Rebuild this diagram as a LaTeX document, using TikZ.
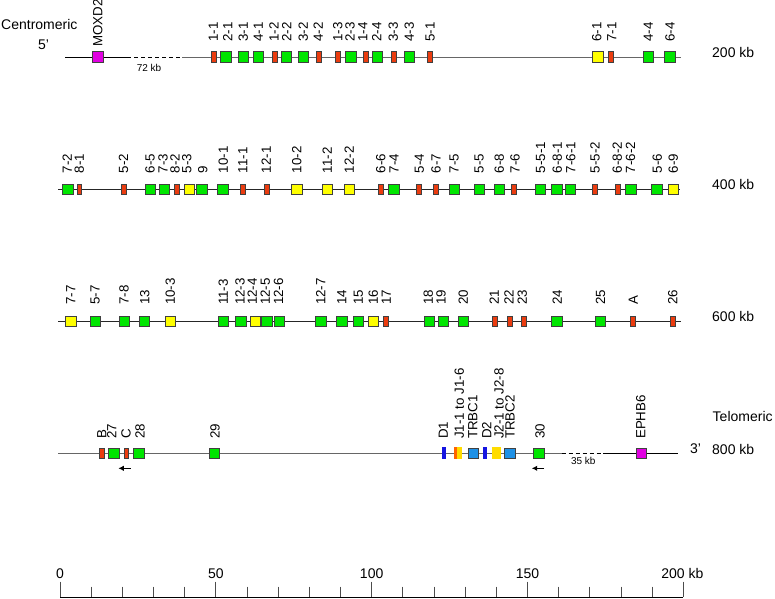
\documentclass[tikz,border=0pt]{standalone}
\usepackage{fontspec}
\setmainfont{Liberation Sans}
\usetikzlibrary{arrows.meta}
\definecolor{cgreen}{RGB}{0,230,0}
\definecolor{cred}{RGB}{235,60,15}
\definecolor{cyellow}{RGB}{255,255,0}
\definecolor{cpink}{RGB}{225,0,225}
\definecolor{cblue}{RGB}{30,145,230}
\definecolor{cdblue}{RGB}{20,20,225}
\definecolor{cjyellow}{RGB}{255,220,0}
\definecolor{corange}{RGB}{255,100,0}
\begin{document}
\begin{tikzpicture}[x=1pt,y=-1pt,
  el/.style={draw=black!75,line width=0.8pt,inner sep=0pt,minimum height=10.3pt},
  gbox/.style={el,fill=cgreen,minimum width=10.3pt},
  rbox/.style={el,fill=cred,minimum width=4.8pt},
  ybox/.style={el,fill=cyellow,minimum width=10.3pt},
  pbox/.style={el,fill=cpink,minimum width=10.3pt},
  tbox/.style={el,fill=cblue,minimum width=10.3pt},
  dbox/.style={inner sep=0pt,minimum height=12pt,minimum width=4pt,fill=cdblue},
  jbox/.style={inner sep=0pt,minimum height=12pt,minimum width=8.5pt,fill=cjyellow},
  jone/.style={jbox,path picture={\fill[corange] (path picture bounding box.south west) rectangle ([xshift=2.7pt]path picture bounding box.north west);}},
  lab/.style={rotate=90,anchor=west,inner sep=0pt,font=\fontsize{13.3}{16}\selectfont},
  side/.style={anchor=base west,inner sep=0pt,font=\fontsize{14}{16}\selectfont},
  small/.style={inner sep=0pt,font=\fontsize{10}{12}\selectfont},
  chrom/.style={line width=0.9pt,black!85},
  chromg/.style={line width=0.9pt,black!60},
  gapline/.style={line width=0.9pt,black,dash pattern=on 4pt off 3pt},
  tick/.style={line width=0.9pt,black!70},
  dir/.style={-{Latex[length=5.5pt,width=5.5pt]},line width=1.2pt}
]
\fill[white] (0,0) rectangle (775,598);
\useasboundingbox (0,0) rectangle (775,598);

% ---- side labels
\node[side] (cent) at (1,29) {Centromeric};
\node[side] (fivep) at (38,49.3) {5'};
\node[side] (kb200) at (712,57.5) {200 kb};
\node[side] (kb400) at (712,189.5) {400 kb};
\node[side] (kb600) at (712,321.7) {600 kb};
\node[side] (telo) at (712.5,421.7) {Telomeric};
\node[side] (threep) at (690,453.3) {3'};
\node[side] (kb800) at (712,454) {800 kb};

% ---- row lines
\coordinate (r1s) at (65,57);
\coordinate (r1d1) at (127,57);
\coordinate (r1d2) at (182,57);
\coordinate (r1e) at (681,57);
\draw[line width=0.9pt,black] (r1s) -- (r1d1);
\draw[gapline] (r1d1) -- (r1d2);
\draw[chromg] (r1d2) -- (r1e);
\node[small] (gap72) at (149,67.5) {72 kb};

\coordinate (r2s) at (58,189.3);
\coordinate (r2e) at (680,189.3);
\draw[chrom] (r2s) -- (r2e);

\coordinate (r3s) at (58,321.7);
\coordinate (r3e) at (681,321.7);
\draw[chrom] (r3s) -- (r3e);

\coordinate (r4s) at (58,453.3);
\coordinate (r4d1) at (561.7,453.3);
\coordinate (r4d2) at (603.3,453.3);
\coordinate (r4e) at (678.3,453.3);
\draw[chromg] (r4s) -- (r4d1);
\draw[gapline] (r4d1) -- (r4d2);
\draw[line width=0.9pt,black] (r4d2) -- (r4e);
\node[small] (gap35) at (583.3,461) {35 kb};

% ---- row 1
\node[pbox] (moxd) at (98,57) {};
\node[lab] (lmoxd) at (97.7,46.8) {MOXD2};
\foreach \px/\st/\tx/\lx [count=\i] in {
  214/rbox/1-1/213.3, 226/gbox/2-1/227.7,
  243.5/gbox/3-1/243.3, 258.5/gbox/4-1/258.3, 274.5/rbox/1-2/274,
  286.5/gbox/2-2/286.7, 303.5/gbox/3-2/303.3, 318.5/rbox/4-2/318.3,
  337.5/rbox/1-3/337.7, 351/gbox/2-3/350, 365.5/rbox/1-4/362.7,
  377.5/gbox/2-4/376.7, 393.5/rbox/3-3/393.3, 409.5/gbox/4-3/409.3,
  430/rbox/5-1/430, 598/ybox/6-1/596.7, 610.5/rbox/7-1/611.7,
  648.7/gbox/4-4/648.3, 670/gbox/6-4/670}
{ \node[\st] (ba\i) at (\px,57) {};
  \node[lab] (la\i) at (\lx,42) {\tx}; }

% ---- row 2
\foreach \px/\st/\tx/\lx [count=\i] in {
  68/gbox/7-2/67.3, 79.3/rbox/8-1/79.3, 124/rbox/5-2/123.5,
  150.3/gbox/6-5/150, 164.7/gbox/7-3/163, 176.5/rbox/8-2/175,
  189.6/ybox/5-3/186.9, 202/gbox/9/202.7, 223/gbox/10-1/223.2,
  243/rbox/11-1/242.8, 266.5/rbox/12-1/266.2, 297/ybox/10-2/296.7,
  327.5/ybox/11-2/327.3, 349.5/ybox/12-2/349.3, 380.8/rbox/6-6/380.7,
  393.8/gbox/7-4/394, 419/rbox/5-4/419.3, 436/rbox/6-7/436,
  454.7/gbox/7-5/454, 479.7/gbox/5-5/479, 499.7/gbox/6-8/499.3,
  514/rbox/7-6/515, 540.3/gbox/5-5-1/540.7, 557/gbox/6-8-1/557.3,
  570.3/gbox/7-6-1/570.7, 594.8/rbox/5-5-2/595, 617.8/rbox/6-8-2/617.3,
  631/gbox/7-6-2/630.5, 657/gbox/5-6/657.3, 673.5/ybox/6-9/673.3}
{ \node[\st] (bb\i) at (\px,189.3) {};
  \node[lab] (lb\i) at (\lx,173.3) {\tx}; }

% ---- row 3
\foreach \px/\st/\tx/\lx [count=\i] in {
  71/ybox/7-7/70.7, 95.3/gbox/5-7/95.1, 124.2/gbox/7-8/124,
  144.7/gbox/13/144.8, 170.3/ybox/10-3/170.2, 223.7/gbox/11-3/223.3,
  241/gbox/12-3/240, 255.3/ybox/12-4/252.2, 267/gbox/12-5/265.3,
  279.7/gbox/12-6/278.6, 321/gbox/12-7/320.7, 342/gbox/14/341.8,
  358.7/gbox/15/358.3, 373.7/ybox/16/373.3, 385.8/rbox/17/386.2,
  429.7/gbox/18/428.3, 443.7/gbox/19/441, 463.7/gbox/20/463.3,
  495/rbox/21/494.3, 510/rbox/22/509, 523.5/rbox/23/522.2,
  557/gbox/24/557.2, 600.5/gbox/25/600.6, 633/rbox/A/633.2,
  673/rbox/26/672.8}
{ \node[\st] (bc\i) at (\px,321.7) {};
  \node[lab] (lc\i) at (\lx,305) {\tx}; }

% ---- row 4
\foreach \px/\st/\tx/\lx [count=\i] in {
  101.8/rbox/B/101.7, 113.8/gbox/27/111.7, 126.3/rbox/C/126,
  138.8/gbox/28/140, 214.7/gbox/29/215, 443.8/dbox/D1/443.3,
  458.2/jone/J1-1 to J1-6/459.3, 473.3/tbox/TRBC1/472.7,
  485.3/dbox/D2/486.7, 496.7/jbox/J2-1 to J2-8/499,
  510/tbox/TRBC2/510, 538.8/gbox/30/540, 641.2/pbox/EPHB6/640.7}
{ \node[\st] (bd\i) at (\px,453.3) {};
  \node[lab] (ld\i) at (\lx,439) {\tx}; }

% ---- direction arrows
\coordinate (ar1s) at (130.7,468.3);
\coordinate (ar1e) at (118.3,468.3);
\draw[dir] (ar1s) -- (ar1e);
\coordinate (ar2s) at (544,468.3);
\coordinate (ar2e) at (531.7,468.3);
\draw[dir] (ar2s) -- (ar2e);

% ---- scale bar
\coordinate (sa) at (60,597);
\coordinate (sb) at (683.3,597);
\foreach \k in {0,50,100,150,200} {
  \draw[tick] ({60+3.1167*\k},581.7) -- ({60+3.1167*\k},597);
}
\foreach \k in {10,20,30,40,60,70,80,90,110,120,130,140,160,170,180,190} {
  \draw[tick] ({60+3.1167*\k},586.7) -- ({60+3.1167*\k},597);
}
\draw[line width=1pt,black] (sa) -- (sb);
\foreach \k/\t in {0/0,50/50,100/100,150/150,200/200 kb} {
  \node[anchor=base,inner sep=0pt,font=\fontsize{14}{16}\selectfont] at ({60+3.1167*\k-(\k==200)*1},578) {\t};
}
\end{tikzpicture}
\end{document}
